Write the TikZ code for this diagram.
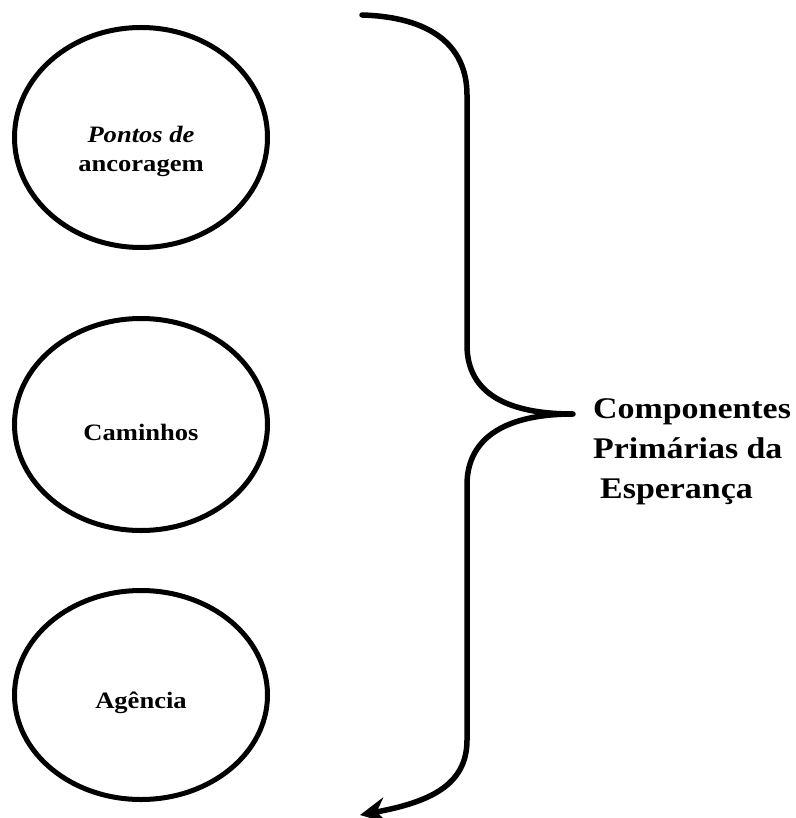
\documentclass[tikz,border=0pt]{standalone}
\usepackage{fontspec}
\setmainfont{Liberation Serif}[FakeStretch=1.13]
\usetikzlibrary{shapes.geometric,arrows.meta}
\tikzset{
  component/.style={draw, ellipse, line width=5pt, minimum width=253pt,
    inner sep=0pt},
  caption/.style={anchor=base, inner sep=0pt,
    font=\fontsize{23.5}{29}\selectfont\bfseries},
  bracket/.style={line width=5.5pt},
  heading/.style={anchor=base west, inner sep=0pt,
    font=\fontsize{30}{40}\selectfont\bfseries}
}
\begin{document}
\begin{tikzpicture}[x=1pt, y=-1pt]
  \useasboundingbox (0,0) rectangle (795,818);

  % the three components
  \node[component, minimum height=220pt] (anchor) at (141,137.5) {};
  \node[component, minimum height=212pt] (paths)  at (141,424.5) {};
  \node[component, minimum height=209pt] (agency) at (141,695) {};

  \node[caption] (anchorA) at (141,143) {\textit{Pontos de}};
  \node[caption] (anchorB) at (141,172) {ancoragem};
  \node[caption] (pathsT)  at (141,440) {Caminhos};
  \node[caption] (agencyT) at (141,708) {Agência};

  % curly bracket gathering the components
  \coordinate (braceTop) at (362,15);
  \coordinate (braceTip) at (573,414);
  \coordinate (braceEnd) at (360,815);
  \draw[bracket, line cap=round]
    (braceTop) .. controls (430,17) and (467,45) .. (467,95)
    -- (467,345) .. controls (467,395) and (510,414) .. (braceTip);
  \draw[bracket, -{Stealth[length=26pt, width=26pt, inset=9pt]}]
    (braceTip) .. controls (510,414) and (467,435) .. (467,485)
    -- (467,740) .. controls (467,785) and (430,802) .. (braceEnd);

  \node[heading] (hope1) at (593,418) {Componentes};
  \node[heading] (hope2) at (593,458) {Primárias da};
  \node[heading] (hope3) at (600,498) {Esperança};
\end{tikzpicture}
\end{document}
